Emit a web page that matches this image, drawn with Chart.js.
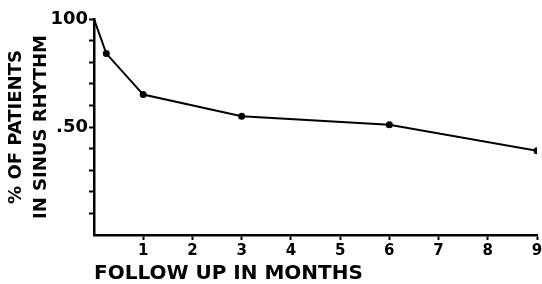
<!DOCTYPE html>
<html>
<head>
<meta charset="utf-8">
<script src="https://cdn.jsdelivr.net/npm/chart.js@4/dist/chart.umd.min.js"></script>
<style>
  html, body { margin: 0; padding: 0; background: #fff; }
  #wrap { width: 542px; height: 284px; position: relative; }
</style>
</head>
<body>
<div id="wrap"><canvas id="c" width="542" height="284"></canvas></div>
<script>
// Data
const months  = [0, 0.25, 1, 3, 6, 9];
const percent = [100, 84, 65, 55, 51, 39];
const xTickValues = [1, 2, 3, 4, 5, 6, 7, 8, 9];
const yTickValues = [10, 20, 30, 40, 50, 60, 70, 80, 90, 100];
const yLabelValues = [100, 50];
const yLabelTexts  = ['100', '.50'];
const xTitle = 'FOLLOW UP IN MONTHS';
const yTitle = ['% OF PATIENTS', 'IN SINUS RHYTHM'];

const FONT = "'DejaVu Sans', sans-serif";

new Chart(document.getElementById('c'), {
  type: 'scatter',
  data: {
    datasets: [{
      data: months.map((m, i) => ({ x: m, y: percent[i] })),
      showLine: true,
      borderColor: '#000',
      backgroundColor: '#000',
      borderWidth: 2,
      pointRadius: ctx => ctx.dataIndex === 0 ? 0 : 3.5,
      pointBackgroundColor: '#000',
      pointBorderWidth: 0,
      tension: 0
    }]
  },
  options: {
    responsive: false,
    animation: false,
    devicePixelRatio: 1,
    layout: { padding: { left: 0, right: 5, top: 19, bottom: 0 } },
    plugins: { legend: { display: false }, tooltip: { enabled: false } },
    scales: {
      x: {
        type: 'linear',
        min: 0, max: 9,
        afterBuildTicks: s => { s.ticks = xTickValues.map(v => ({ value: v })); },
        afterFit: s => { s.height = 49; s.paddingLeft = 0; s.paddingRight = 0; },
        ticks: {
          color: '#000',
          font: { family: FONT, size: 15, weight: 'bold' },
          padding: 2,
          maxRotation: 0,
          autoSkip: false,
          callback: v => String(v)
        },
        grid: { drawOnChartArea: false, drawTicks: true, tickLength: 5, tickColor: '#000', tickWidth: 2 },
        border: { display: true, color: '#000', width: 2.5 },
        title: {
          display: true, text: xTitle, align: 'start', color: '#000',
          font: { family: FONT, size: 20, weight: 'bold', lineHeight: 1 },
          padding: { top: 0, bottom: 0 }
        }
      },
      y: {
        type: 'linear',
        min: 0, max: 100,
        afterBuildTicks: s => { s.ticks = yTickValues.map(v => ({ value: v })); },
        ticks: {
          color: '#000',
          font: { family: FONT, size: 18, weight: 'bold' },
          padding: 1,
          autoSkip: false,
          callback: v => { const i = yLabelValues.indexOf(v); return i >= 0 ? yLabelTexts[i] : ''; }
        },
        afterFit: s => { s.width = 94; s.paddingTop = 0; s.paddingBottom = 0; },
        grid: { drawOnChartArea: false, drawTicks: true, tickLength: 5, tickColor: '#000', tickWidth: 2 },
        border: { display: true, color: '#000', width: 2.5 },
        title: {
          display: true, text: yTitle, color: '#000',
          font: { family: FONT, size: 18, weight: 'bold', lineHeight: 1.4 },
          padding: { top: 4, bottom: 0 }
        }
      }
    }
  }
});
</script>
</body>
</html>
